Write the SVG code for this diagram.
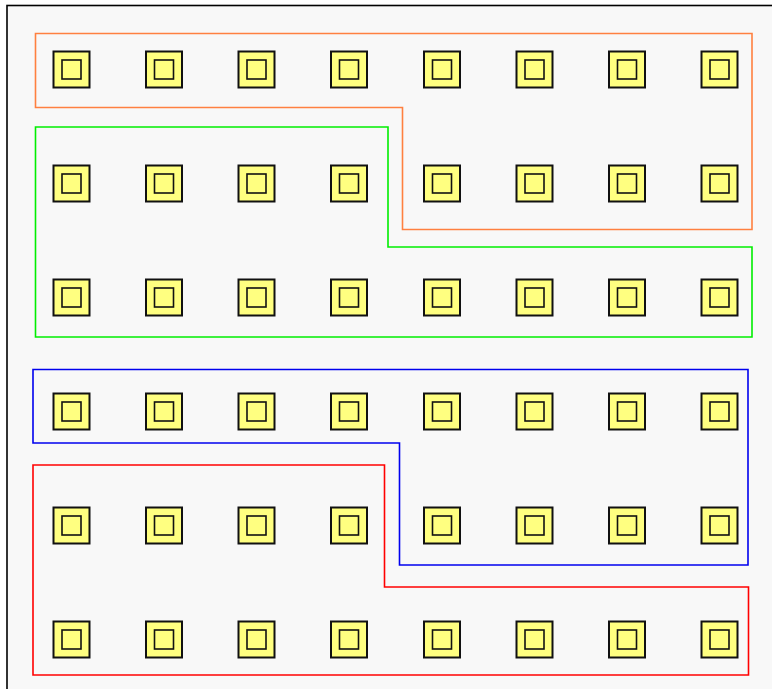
<svg xmlns="http://www.w3.org/2000/svg" width="772" height="689" viewBox="0 0 772 689">
<style>
.o{fill:#ffff80;stroke:#111;stroke-width:2}
.i{fill:#ffff80;stroke:#111;stroke-width:1.6}
.g{fill:none;stroke-width:1.6}
</style>
<defs>
<g id="n"><rect class="o" x="-18" y="-18" width="36" height="36"/><rect class="i" x="-9.5" y="-9.5" width="19" height="19"/></g>
</defs>
<rect width="772" height="689" fill="#fff"/>
<rect x="7" y="5.5" width="780" height="700" fill="#f8f8f8" stroke="#000" stroke-width="1.6"/>
<g id="connectors">
<path class="g" stroke="#ff8040" d="M35.5 33.5H752V229.5H402.5V107.5H35.5Z"/>
<path class="g" stroke="#00ee00" d="M35.5 127H388V247H752V337H35.5Z"/>
<path class="g" stroke="#0000ee" d="M33 369.5H748V565H399.5V443H33Z"/>
<path class="g" stroke="#ff0000" d="M33 465H384.5V587H748.5V675H33Z"/>
</g>
<g id="nodes">
<g id="r0"><use href="#n" x="71.5" y="69.5"/><use href="#n" x="164" y="69.5"/><use href="#n" x="256.5" y="69.5"/><use href="#n" x="349" y="69.5"/><use href="#n" x="442" y="69.5"/><use href="#n" x="534.5" y="69.5"/><use href="#n" x="627" y="69.5"/><use href="#n" x="719.5" y="69.5"/></g>
<g id="r1"><use href="#n" x="71.5" y="183.5"/><use href="#n" x="164" y="183.5"/><use href="#n" x="256.5" y="183.5"/><use href="#n" x="349" y="183.5"/><use href="#n" x="442" y="183.5"/><use href="#n" x="534.5" y="183.5"/><use href="#n" x="627" y="183.5"/><use href="#n" x="719.5" y="183.5"/></g>
<g id="r2"><use href="#n" x="71.5" y="297.5"/><use href="#n" x="164" y="297.5"/><use href="#n" x="256.5" y="297.5"/><use href="#n" x="349" y="297.5"/><use href="#n" x="442" y="297.5"/><use href="#n" x="534.5" y="297.5"/><use href="#n" x="627" y="297.5"/><use href="#n" x="719.5" y="297.5"/></g>
<g id="r3"><use href="#n" x="71.5" y="411.5"/><use href="#n" x="164" y="411.5"/><use href="#n" x="256.5" y="411.5"/><use href="#n" x="349" y="411.5"/><use href="#n" x="442" y="411.5"/><use href="#n" x="534.5" y="411.5"/><use href="#n" x="627" y="411.5"/><use href="#n" x="719.5" y="411.5"/></g>
<g id="r4"><use href="#n" x="71.5" y="525.5"/><use href="#n" x="164" y="525.5"/><use href="#n" x="256.5" y="525.5"/><use href="#n" x="349" y="525.5"/><use href="#n" x="442" y="525.5"/><use href="#n" x="534.5" y="525.5"/><use href="#n" x="627" y="525.5"/><use href="#n" x="719.5" y="525.5"/></g>
<g id="r5"><use href="#n" x="71.5" y="639.5"/><use href="#n" x="164" y="639.5"/><use href="#n" x="256.5" y="639.5"/><use href="#n" x="349" y="639.5"/><use href="#n" x="442" y="639.5"/><use href="#n" x="534.5" y="639.5"/><use href="#n" x="627" y="639.5"/><use href="#n" x="719.5" y="639.5"/></g>
</g>
</svg>
